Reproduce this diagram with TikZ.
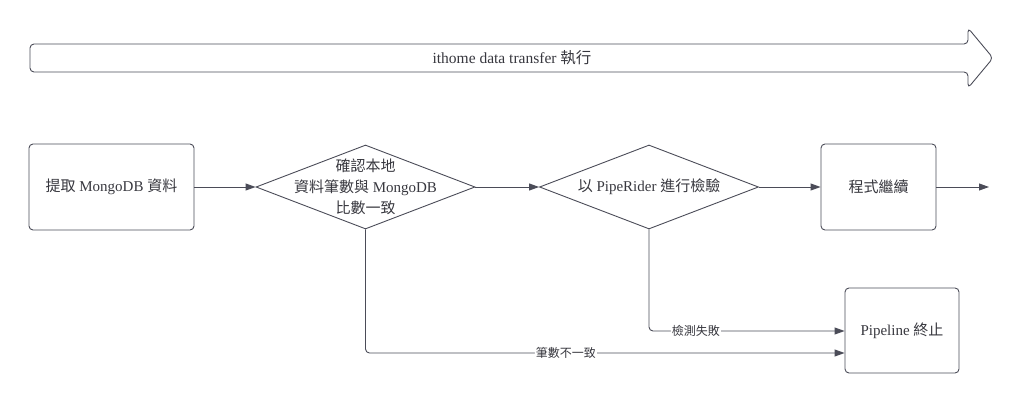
\documentclass[tikz,border=0pt]{standalone}
\usepackage{fontspec}
\setmainfont{Liberation Serif}
\newfontfamily\cjk{Noto Sans CJK TC}
\usetikzlibrary{arrows.meta,shapes.geometric}
\definecolor{ln}{RGB}{75,76,88}
\definecolor{tx}{RGB}{55,55,62}
\tikzset{
  box/.style={draw=ln, line width=0.9pt, rounded corners=4pt, minimum width=165pt, minimum height=86pt, inner sep=0pt, text=tx, font=\fontsize{15}{18}\selectfont},
  dia/.style={draw=ln, line width=0.9pt, shape=diamond, minimum width=219pt, minimum height=84pt, inner sep=0pt},
  lab/.style={text=tx, font=\fontsize{15}{21}\selectfont, align=center},
  conn/.style={draw=ln, line width=0.9pt, rounded corners=4pt, -{Triangle[length=10pt,width=7pt]}},
  elab/.style={fill=white, text=tx, inner sep=1pt, font=\fontsize{12}{14}\selectfont}
}
\begin{document}
\begin{tikzpicture}[x=1pt,y=-1pt]
\useasboundingbox (0,0) rectangle (1024,403);
% big arrow
\draw[ln, line width=0.9pt, rounded corners=4pt] (30,44) -- (968,44) -- (968,28) -- (993,58) -- (968,88) -- (968,72) -- (30,72) -- cycle;
\node[lab, font=\fontsize{15.5}{18}\selectfont] (banner) at (512,58) {ithome data transfer {\cjk 執行}};
% nodes
\node[box] (b1) at (111.5,187) {{\cjk 提取} MongoDB {\cjk 資料}};
\node[dia] (d1) at (365.5,187) {};
\node[lab] (t1) at (d1) {{\cjk 確認本地}\\{\cjk 資料筆數與} MongoDB\\{\cjk 比數一致}};
\node[dia] (d2) at (649,187) {};
\node[lab] (t2) at (d2) {{\cjk 以} PipeRider {\cjk 進行檢驗}};
\node[box, minimum width=115pt] (b2) at (878.5,187) {\cjk 程式繼續};
\node[box, minimum width=114pt, minimum height=85pt] (b3) at (902,330.5) {Pipeline {\cjk 終止}};
\coordinate (end) at (989,187);
% connectors
\draw[conn] (b1.east) -- (d1.west);
\draw[conn] (d1.east) -- (d2.west);
\draw[conn] (d2.east) -- (b2.west);
\draw[conn] (b2.east) -- (end);
\draw[conn] (d2.south) |- (b3.west |- 0,331) node[elab, pos=0.62] {\cjk 檢測失敗};
\draw[conn] (d1.south) |- (b3.west |- 0,353) node[elab, pos=0.709] {\cjk 筆數不一致};
\end{tikzpicture}
\end{document}
